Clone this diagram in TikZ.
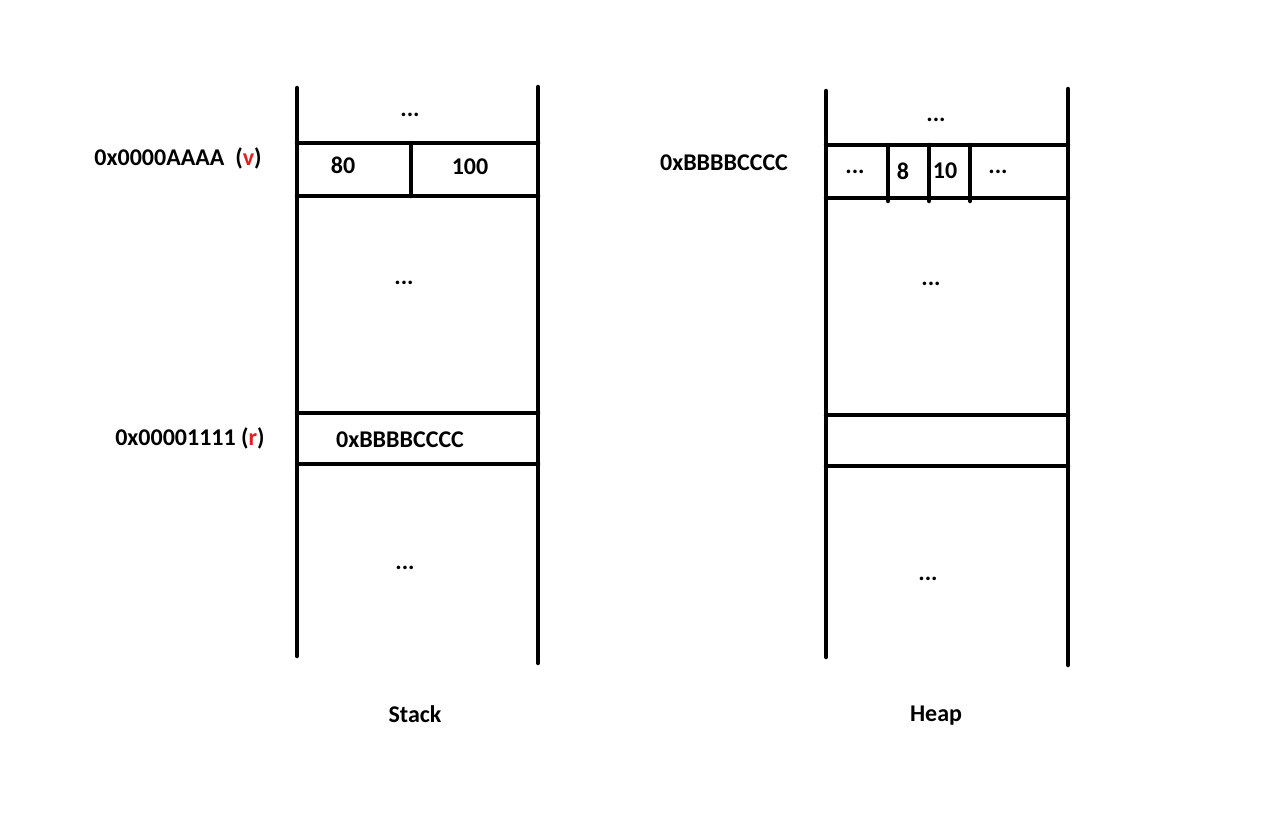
\documentclass[tikz,border=0pt]{standalone}
\usepackage{fontspec}
\setmainfont{Carlito}
\definecolor{vred}{RGB}{230,30,30}
\begin{document}
\begin{tikzpicture}[x=1pt,y=-1pt,
  wall/.style={line width=4.5pt,line cap=round},
  lbl/.style={font=\bfseries\fontsize{24}{28}\selectfont,inner sep=0pt,anchor=center}]
\useasboundingbox (0,0) rectangle (1261,819);
% Stack
\draw[wall] (297,88) -- (297,656);
\draw[wall] (538,87) -- (538,663);
\draw[wall] (297,143) -- (538,143);
\draw[wall] (297,196) -- (538,196);
\draw[wall] (411,143) -- (411,196);
\draw[wall] (297,413) -- (538,413);
\draw[wall] (297,464) -- (538,464);
% Heap
\draw[wall] (826,91) -- (826,657);
\draw[wall] (1068,89) -- (1068,665);
\draw[wall] (826,145) -- (1068,145);
\draw[wall] (826,198) -- (1068,198);
\draw[wall] (888,145) -- (888,201);
\draw[wall] (929,145) -- (929,201);
\draw[wall] (970,145) -- (970,201);
\draw[wall] (826,415) -- (1068,415);
\draw[wall] (826,466) -- (1068,466);
% Stack texts
\node[lbl] (sdots1) at (410,115) {...};
\node[lbl] (s80) at (343,165) {80};
\node[lbl] (s100) at (470,167) {100};
\node[lbl] (vaddr) at (178,158) {0x0000AAAA\ \ (\textcolor{vred}{v})};
\node[lbl] (sdots2) at (404,283) {...};
\node[lbl] (raddr) at (190,438) {0x00001111 (\textcolor{vred}{r})};
\node[lbl] (sptr) at (400,440) {0xBBBBCCCC};
\node[lbl] (sdots3) at (405,568) {...};
\node[lbl] (stack) at (415,714) {Stack};
% Heap texts
\node[lbl] (hdots1) at (936,120) {...};
\node[lbl] (haddr) at (724,163) {0xBBBBCCCC};
\node[lbl] (hdots2) at (855,172) {...};
\node[lbl] (h8) at (903,171) {8};
\node[lbl] (h10) at (945,171) {10};
\node[lbl] (hdots3) at (998,172) {...};
\node[lbl] (hdots4) at (931,284) {...};
\node[lbl] (hdots5) at (928,579) {...};
\node[lbl] (heap) at (936,716) {Heap};
\end{tikzpicture}
\end{document}
